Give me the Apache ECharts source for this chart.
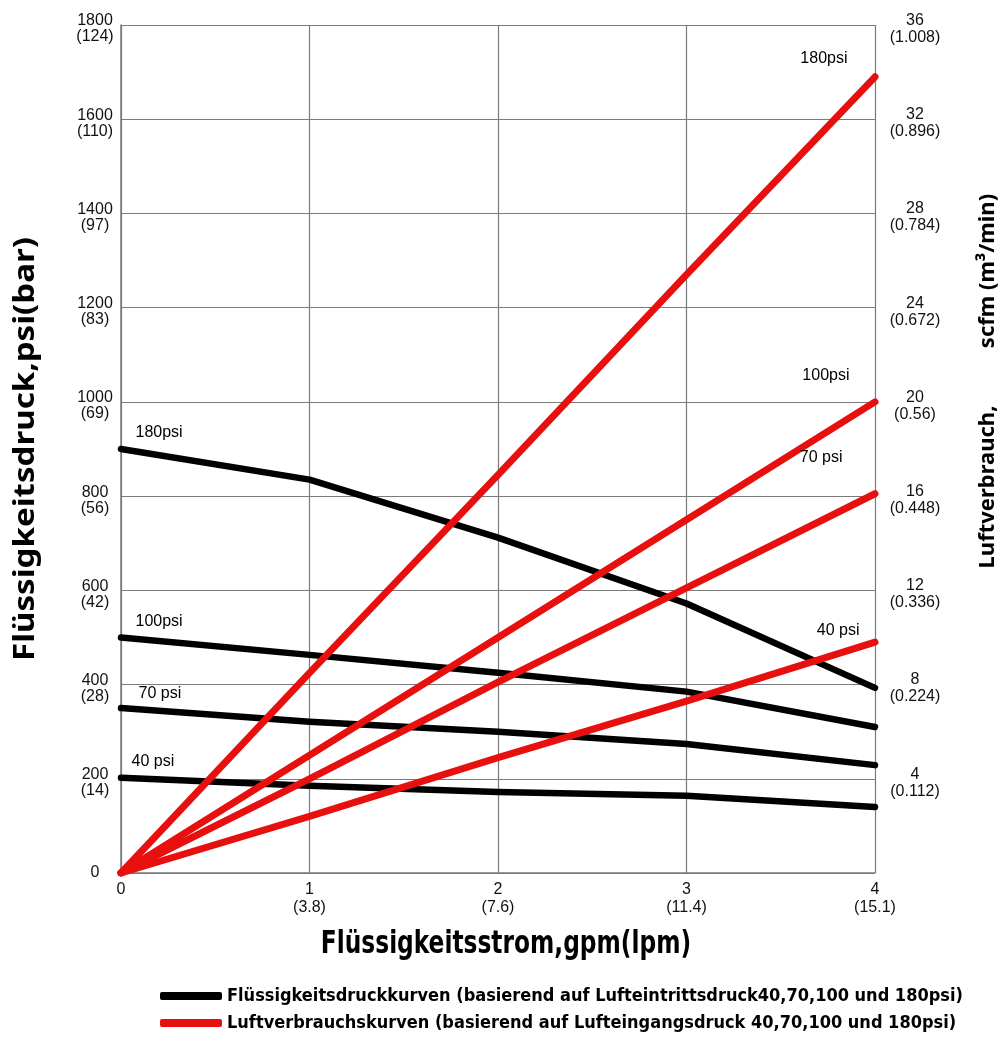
<!DOCTYPE html>
<html>
<head>
<meta charset="utf-8">
<script src="https://cdn.jsdelivr.net/npm/echarts@6/dist/echarts.min.js"></script>
<style>
html,body{margin:0;padding:0;background:#fff;}
#chart{width:1008px;height:1037px;}
</style>
</head>
<body>
<div id="chart"></div>
<script>
// ---- data ----
const flowGpm = [0, 1, 2, 3, 4];
const flowLpmLabels = ['', '(3.8)', '(7.6)', '(11.4)', '(15.1)'];
const psiTicks = [0, 200, 400, 600, 800, 1000, 1200, 1400, 1600, 1800];
const barLabels = ['', '(14)', '(28)', '(42)', '(56)', '(69)', '(83)', '(97)', '(110)', '(124)'];
const scfmTicks = [0, 4, 8, 12, 16, 20, 24, 28, 32, 36];
const m3Labels = ['', '(0.112)', '(0.224)', '(0.336)', '(0.448)', '(0.56)', '(0.672)', '(0.784)', '(0.896)', '(1.008)'];

const fluid180 = [900, 835, 712, 572, 393];
const fluid100 = [500, 463, 425, 385, 310];
const fluid70 = [350, 321, 300, 274, 229];
const fluid40 = [202, 185, 172, 164, 140];

const air180 = [0, 8.5, 16.9, 25.4, 33.8];
const air100 = [0, 5, 10, 15, 20];
const air70 = [0, 4, 8.1, 12.1, 16.1];
const air40 = [0, 2.4, 4.9, 7.3, 9.8];

const fluidName = 'Flüssigkeitsdruckkurven (basierend auf Lufteintrittsdruck40,70,100 und 180psi)';
const airName = 'Luftverbrauchskurven (basierend auf Lufteingangsdruck 40,70,100 und 180psi)';
const xTitle = 'Flüssigkeitsstrom,gpm(lpm)';
const yLeftTitle = 'Flüssigkeitsdruck,psi(bar)';
const yRightTitleA = 'Luftverbrauch,';
const yRightTitleB = 'scfm (m³/min)';

// ---- build ----
const tickFont = '"Liberation Sans", Arial, sans-serif';
const condBold = '"DejaVu Sans Condensed", "Liberation Sans", sans-serif';

function mkData(vals, labelIdx, text, offset) {
  return flowGpm.map((x, i) => {
    const item = { value: [x, vals[i]] };
    if (i === labelIdx) {
      item.label = {
        show: true, formatter: text, position: labelIdx === 0 ? 'right' : 'left',
        offset: offset, color: '#000', fontSize: 16, fontFamily: tickFont
      };
    }
    return item;
  });
}

function fluidSeries(vals, text, offset) {
  return {
    name: fluidName, type: 'line', xAxisIndex: 0, yAxisIndex: 0,
    data: mkData(vals, 0, text, offset),
    symbol: 'circle', symbolSize: 1, showSymbol: true,
    lineStyle: { color: '#000', width: 6.5, cap: 'round', join: 'round' },
    itemStyle: { color: '#000' }, z: 3, silent: true
  };
}
function airSeries(vals, text, offset) {
  return {
    name: airName, type: 'line', xAxisIndex: 0, yAxisIndex: 1,
    data: mkData(vals, 4, text, offset),
    symbol: 'circle', symbolSize: 1, showSymbol: true,
    lineStyle: { color: '#e8100f', width: 7, cap: 'round', join: 'round' },
    itemStyle: { color: '#e8100f' }, z: 4, silent: true
  };
}

const chart = echarts.init(document.getElementById('chart'), null, { renderer: 'canvas' });
chart.setOption({
  animation: false,
  backgroundColor: '#fff',
  grid: { left: 121, right: 133, top: 25, bottom: 164, containLabel: false },
  xAxis: {
    type: 'value', min: 0, max: 4, interval: 1,
    axisLine: { show: true, lineStyle: { color: '#7a7a7a', width: 1.5 } },
    axisTick: { show: false },
    splitLine: { show: true, lineStyle: { color: '#7a7a7a', width: 1.2 } },
    axisLabel: {
      margin: 8, color: '#111', fontSize: 16, lineHeight: 18, fontFamily: tickFont,
      formatter: v => { const i = flowGpm.indexOf(v); return i <= 0 ? String(v) : v + '\n' + flowLpmLabels[i]; }
    }
  },
  yAxis: [
    {
      type: 'value', min: 0, max: 1800, interval: 200, position: 'left',
      axisLine: { show: true, lineStyle: { color: '#7a7a7a', width: 1.5 } },
      axisTick: { show: false },
      splitLine: { show: true, lineStyle: { color: '#7a7a7a', width: 1.2 } },
      axisLabel: {
        margin: 26, align: 'center', color: '#111', fontSize: 16, fontFamily: tickFont,
        rich: {
          s: { fontSize: 2, lineHeight: 8 },
          v: { fontSize: 16, lineHeight: 16, fontFamily: tickFont, color: '#111', align: 'center' }
        },
        formatter: v => { const i = psiTicks.indexOf(v); return i <= 0 ? '{v|' + v + '}' : '{s| }\n{v|' + v + '}\n{v|' + barLabels[i] + '}'; }
      }
    },
    {
      type: 'value', min: 0, max: 36, interval: 4, position: 'right',
      axisLine: { show: false }, axisTick: { show: false }, splitLine: { show: false },
      axisLabel: {
        margin: 40, align: 'center', color: '#111', fontSize: 16, fontFamily: tickFont,
        rich: {
          s: { fontSize: 2, lineHeight: 8 },
          v: { fontSize: 16, lineHeight: 17, fontFamily: tickFont, color: '#111', align: 'center' }
        },
        formatter: v => { const i = scfmTicks.indexOf(v); return i <= 0 ? '' : '{s| }\n{v|' + v + '}\n{v|' + m3Labels[i] + '}'; }
      }
    }
  ],
  legend: {
    orient: 'vertical', left: 155, top: 982, itemWidth: 62, itemHeight: 8, itemGap: 9,
    icon: 'roundRect',
    textStyle: { fontFamily: condBold, fontWeight: 'bold', fontSize: 18, color: '#000' },
    data: [fluidName, airName], selectedMode: false
  },
  graphic: [
    { type: 'text', x: 26, y: 449, rotation: Math.PI / 2, scaleX: 1.14, silent: true,
      style: { text: yLeftTitle, fontFamily: '"Noto Sans", sans-serif', fontWeight: 'bold', fontSize: 29, fill: '#000', align: 'center', verticalAlign: 'middle' } },
    { type: 'text', x: 988, y: 487, rotation: Math.PI / 2, silent: true,
      style: { text: yRightTitleA, fontFamily: '"Noto Sans", sans-serif', fontWeight: 'bold', fontSize: 22, fill: '#000', align: 'center', verticalAlign: 'middle' } },
    { type: 'text', x: 988, y: 271, rotation: Math.PI / 2, silent: true,
      style: { text: yRightTitleB, fontFamily: '"Noto Sans", sans-serif', fontWeight: 'bold', fontSize: 22, fill: '#000', align: 'center', verticalAlign: 'middle' } },
    { type: 'text', x: 506, y: 945, scaleX: 0.81, silent: true,
      style: { text: xTitle, fontFamily: condBold, fontWeight: 'bold', fontSize: 32, fill: '#000', align: 'center', verticalAlign: 'middle' } }
  ],
  series: [
    fluidSeries(fluid180, '180psi', [9, -16]),
    fluidSeries(fluid100, '100psi', [9, -16]),
    fluidSeries(fluid70, '70 psi', [12, -15]),
    fluidSeries(fluid40, '40 psi', [5, -16]),
    airSeries(air180, '180psi', [-22, -18]),
    airSeries(air100, '100psi', [-20, -26]),
    airSeries(air70, '70 psi', [-27, -36]),
    airSeries(air40, '40 psi', [-10, -12])
  ]
});
</script>
</body>
</html>
